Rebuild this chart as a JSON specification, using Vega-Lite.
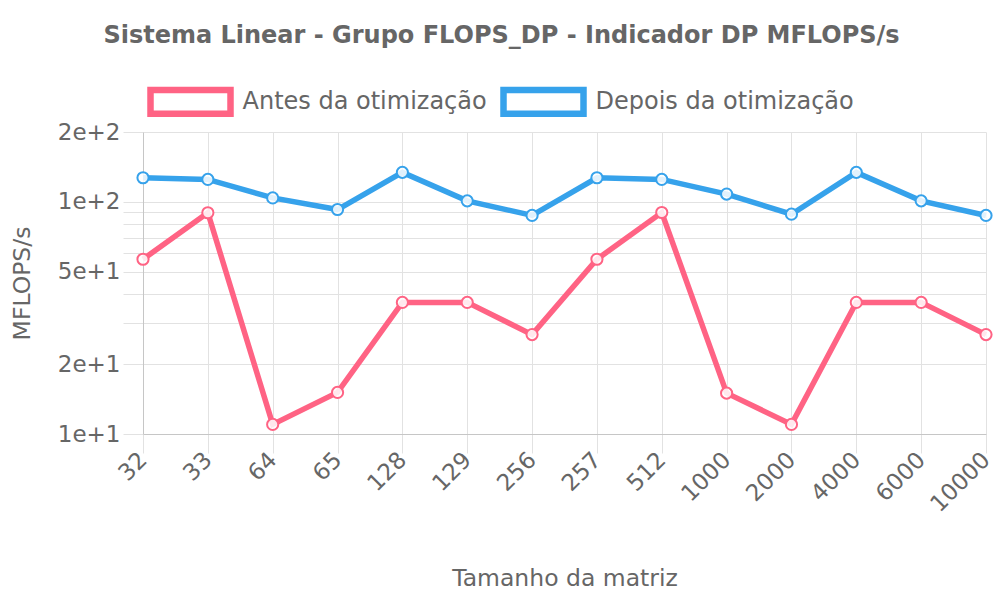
{
  "$schema": "https://vega.github.io/schema/vega-lite/v6.json",
  "width": 843,
  "height": 302,
  "autosize": "none",
  "padding": {"left": 143, "top": 132, "right": 14, "bottom": 166},
  "background": "white",
  "config": {
    "font": "DejaVu Sans",
    "view": {"stroke": null},
    "axis": {"labelColor": "#666666", "titleColor": "#666666", "labelFontSize": 23, "titleFontSize": 23.5, "titleFontWeight": "normal", "gridColor": "#e2e2e2", "gridOpacity": 1, "tickColor": "#e2e2e2", "domainColor": "#c6c6c6", "labelLimit": 300}
  },
  "title": {
    "text": "Sistema Linear - Grupo FLOPS_DP - Indicador DP MFLOPS/s",
    "fontSize": 24,
    "fontWeight": "bold",
    "color": "#666666",
    "anchor": "middle",
    "dx": -63,
    "offset": 40
  },
  "data": {
    "values": [
      {"n": "32", "serie": "Antes da otimização", "v": 56.6},
      {"n": "33", "serie": "Antes da otimização", "v": 89.8},
      {"n": "64", "serie": "Antes da otimização", "v": 11.0},
      {"n": "65", "serie": "Antes da otimização", "v": 15.1},
      {"n": "128", "serie": "Antes da otimização", "v": 36.9},
      {"n": "129", "serie": "Antes da otimização", "v": 36.9},
      {"n": "256", "serie": "Antes da otimização", "v": 26.8},
      {"n": "257", "serie": "Antes da otimização", "v": 56.6},
      {"n": "512", "serie": "Antes da otimização", "v": 90.0},
      {"n": "1000", "serie": "Antes da otimização", "v": 15.0},
      {"n": "2000", "serie": "Antes da otimização", "v": 11.0},
      {"n": "4000", "serie": "Antes da otimização", "v": 36.9},
      {"n": "6000", "serie": "Antes da otimização", "v": 36.9},
      {"n": "10000", "serie": "Antes da otimização", "v": 26.8},
      {"n": "32", "serie": "Depois da otimização", "v": 127},
      {"n": "33", "serie": "Depois da otimização", "v": 125},
      {"n": "64", "serie": "Depois da otimização", "v": 104},
      {"n": "65", "serie": "Depois da otimização", "v": 92.7},
      {"n": "128", "serie": "Depois da otimização", "v": 134},
      {"n": "129", "serie": "Depois da otimização", "v": 101},
      {"n": "256", "serie": "Depois da otimização", "v": 87.4},
      {"n": "257", "serie": "Depois da otimização", "v": 127},
      {"n": "512", "serie": "Depois da otimização", "v": 125},
      {"n": "1000", "serie": "Depois da otimização", "v": 108},
      {"n": "2000", "serie": "Depois da otimização", "v": 88.5},
      {"n": "4000", "serie": "Depois da otimização", "v": 134},
      {"n": "6000", "serie": "Depois da otimização", "v": 101},
      {"n": "10000", "serie": "Depois da otimização", "v": 87.4}
    ]
  },
  "encoding": {
    "x": {
      "field": "n",
      "type": "nominal",
      "sort": null,
      "scale": {"type": "point", "padding": 0},
      "axis": {
        "title": "Tamanho da matriz",
        "labelAngle": -45,
        "labelAlign": "right",
        "labelBaseline": "middle",
        "labelPadding": 3,
        "tickSize": 19,
        "grid": true,
        "titleY": 144,
        "titleBaseline": "middle"
      }
    },
    "y": {
      "field": "v",
      "type": "quantitative",
      "scale": {"type": "log", "domain": [10, 200], "nice": false},
      "axis": {
        "title": "MFLOPS/s",
        "values": [10, 20, 30, 40, 50, 60, 70, 80, 90, 100, 200],
        "labelExpr": "indexof([10, 20, 50, 100, 200], datum.value) >= 0 ? format(datum.value, '.0e') : ''",
        "tickSize": 20,
        "labelPadding": 3,
        "grid": true,
        "titlePadding": 23
      }
    },
    "color": {
      "field": "serie",
      "type": "nominal",
      "scale": {"domain": ["Antes da otimização", "Depois da otimização"], "range": ["#ff6384", "#36a2eb"]},
      "legend": null
    }
  },
  "layer": [
    {
      "mark": {"type": "line", "strokeWidth": 5.5},
      "encoding": {
        "color": {
          "field": "serie",
          "type": "nominal",
          "scale": {"domain": ["Antes da otimização", "Depois da otimização"], "range": ["#ff6384", "#36a2eb"]},
          "legend": {
            "title": null,
            "orient": "none",
            "direction": "horizontal",
            "legendX": 34,
            "legendY": -44,
            "symbolType": "M-4,-1.18H4V1.18H-4Z",
            "symbolSize": 400,
            "symbolStrokeWidth": 6.5,
            "symbolFillColor": "white",
            "labelFontSize": 24,
            "labelLimit": 500,
            "labelColor": "#666666",
            "labelOffset": 38.5,
            "columnPadding": 3,
            "padding": 0
          }
        }
      }
    },
    {
      "mark": {"type": "point", "shape": "circle", "filled": false, "fill": "white", "fillOpacity": 0.85, "size": 125, "strokeWidth": 2, "opacity": 1}
    }
  ]
}
